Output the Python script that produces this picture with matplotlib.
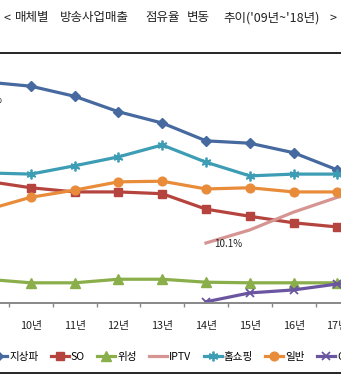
import matplotlib
matplotlib.use('Agg')
import matplotlib.pyplot as plt
from matplotlib.lines import Line2D
from matplotlib.ticker import FixedLocator
import numpy as np

plt.rcParams['font.family'] = ['Noto Sans CJK KR', 'DejaVu Sans']

years = ['09년', '10년', '11년', '12년', '13년', '14년', '15년', '16년', '17년', '18년']
terrestrial = [37.2, 36.5, 34.8, 32.2, 30.3, 27.3, 26.9, 25.3, 22.4, 22.0]
so = [20.5, 19.4, 18.7, 18.7, 18.4, 15.8, 14.6, 13.5, 12.8, 12.4]
satellite = [4.0, 3.4, 3.4, 4.0, 4.0, 3.5, 3.4, 3.4, 3.4, 3.3]
iptv = [None, None, None, None, None, 10.1, 12.3, 15.3, 17.8, 19.5]
homeshopping = [21.9, 21.7, 23.1, 24.6, 26.6, 23.7, 21.4, 21.7, 21.7, 21.6]
general = [15.7, 17.8, 19.0, 20.4, 20.5, 19.2, 19.4, 18.7, 18.7, 18.8]
cp = [None, None, None, None, None, 0.2, 1.7, 2.2, 3.2, 3.6]

series_names = ['지상파', 'SO', '위성', 'IPTV', '홈쇼핑', '일반', 'CP']
title_words = ['<', '매체별', '방송사업매출', '점유율', '변동', "추이('09년~'18년)", '>']

W, H = 341, 386
fig = plt.figure(figsize=(W / 100, H / 100), dpi=100)
fig.patch.set_facecolor('white')

# axes extends beyond the visible (cropped) area
x0_px = -13 - 43.8 * 0.5
ax_w_px = 43.8 * 10
ax = fig.add_axes([x0_px / W, (H - 303) / H, ax_w_px / W, 40 * 5.94 / H])
ax.set_facecolor('none')

x = np.arange(len(years))
def arr(v):
    return np.array([np.nan if a is None else a for a in v], dtype=float)

lw = 2.3
styles = [
    (terrestrial, '#46699f', dict(marker='D', ms=5.5)),
    (so, '#b5443f', dict(marker='s', ms=6.3)),
    (satellite, '#8aae4a', dict(marker='^', ms=6.5)),
    (iptv, '#d69592', dict(marker=None)),
    (homeshopping, '#3d9db5', dict(marker=(6, 2, 0), ms=7, mew=1.3)),
    (general, '#e88c3a', dict(marker='o', ms=6.3)),
    (cp, '#6a56a0', dict(marker='x', ms=6, mew=1.3)),
]
handles = []
for (vals, col, kw), name in zip(styles, series_names):
    ln, = ax.plot(x, arr(vals), color=col, lw=lw, label=name,
                  markerfacecolor=col, markeredgecolor=col, **kw)
    handles.append(ln)

# data labels
ax.annotate('37.2%', (0, terrestrial[0]), xytext=(2, -18), textcoords='offset pixels',
            ha='center', va='center', fontsize=7, color='#222222')
ax.annotate('10.1%', (5, iptv[5]), xytext=(22, -1), textcoords='offset pixels',
            ha='center', va='center', fontsize=7, color='#222222')

ax.set_xlim(-0.5, 9.5)
ax.set_ylim(0, 40)
for s in ['top', 'left', 'right']:
    ax.spines[s].set_visible(False)
ax.spines['bottom'].set_color('#888888')
ax.spines['bottom'].set_linewidth(1.4)
ax.set_yticks([])
ax.set_xticks(x)
ax.set_xticklabels(years, fontsize=7.8, color='#222222')
ax.tick_params(axis='x', which='major', length=0, pad=13)
ax.xaxis.set_minor_locator(FixedLocator(np.arange(-0.5, 10, 1)))
ax.tick_params(axis='x', which='minor', length=3, width=1, color='#888888', direction='out')

# legend
fig.legend(handles=handles, labels=series_names, loc='center left',
           bbox_to_anchor=(-11 / W, 1 - 357 / H), ncol=7, frameon=False,
           fontsize=7.6, handlelength=1.7, handletextpad=0.2, columnspacing=1.17,
           borderpad=0, borderaxespad=0)

# frame lines
fig.add_artist(Line2D([0, 1], [1 - 53 / H, 1 - 53 / H], transform=fig.transFigure,
                      color='black', lw=1.2))
fig.add_artist(Line2D([0, 1], [1 - 373 / H, 1 - 373 / H], transform=fig.transFigure,
                      color='black', lw=1.2))

# title words
title_x = [3, 15, 60, 145, 187, 223, 330]
for wx, word in zip(title_x, title_words):
    fig.text(wx / W, 1 - 18 / H, word, ha='left', va='center', fontsize=9,
             color='#222222')

fig.savefig('out.png', dpi=100, facecolor='white')
